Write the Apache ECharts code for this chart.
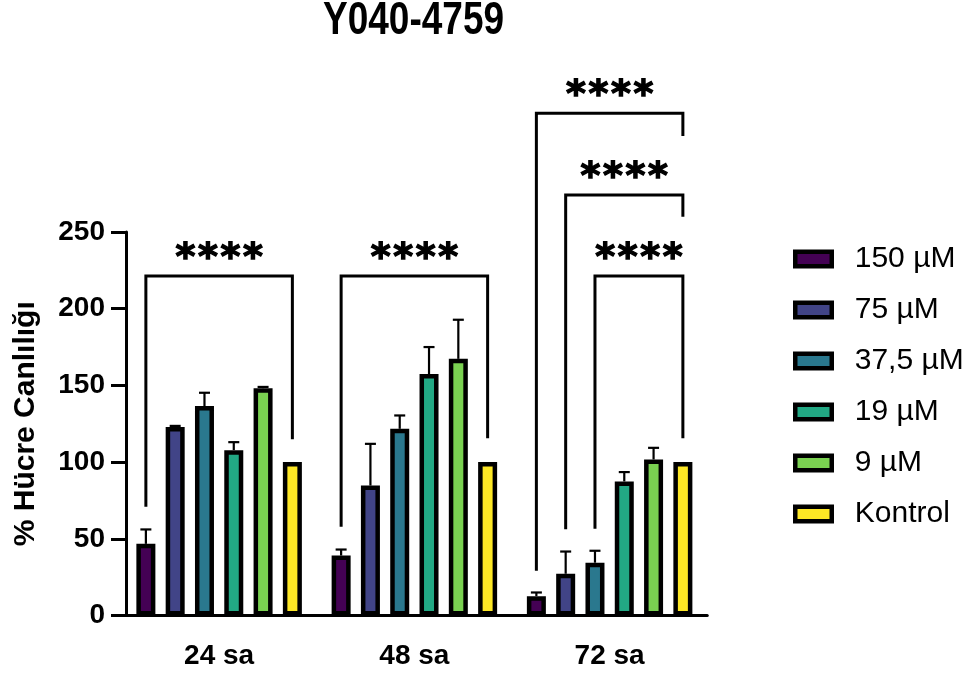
<!DOCTYPE html>
<html>
<head>
<meta charset="utf-8">
<script src="https://cdn.jsdelivr.net/npm/echarts@6/dist/echarts.min.js"></script>
<style>html,body{margin:0;padding:0;background:#fff}#c{width:977px;height:673px}</style>
</head>
<body>
<div id="c"></div>
<script>
// ---- data ----
var titleText = 'Y040-4759';
var categories = ['24 sa', '48 sa', '72 sa'];
var seriesNames = ['150 µM', '75 µM', '37,5 µM', '19 µM', '9 µM', 'Kontrol'];
var colors = ['#440154', '#414487', '#2a788e', '#22a884', '#7ad151', '#fde725'];
var means150 = [46.7, 39.1, 12.6];
var means75 = [122.8, 84.7, 27.2];
var means37 = [136.5, 121.7, 34.4];
var means19 = [107.8, 157.4, 87.4];
var means9 = [148.2, 167.3, 101.7];
var meansKontrol = [100, 100, 100];
var sd150 = [9.4, 3.9, 2.4];
var sd75 = [0.8, 27.2, 14.5];
var sd37 = [8.7, 8.7, 7.8];
var sd19 = [5.2, 17.6, 6.1];
var sd9 = [0.8, 25.5, 7.6];
var sdKontrol = [0, 0, 0];
// brackets: [category, left bar, right bar, top value, left leg bottom, right leg bottom, label]
var brackets = [
  [0, 0, 5, 221.3, 70.9, 114.9, '****'],
  [1, 0, 5, 221.3, 57.9, 115.5, '****'],
  [2, 0, 5, 327.4, 29.2, 312.6, '****'],
  [2, 1, 5, 274.1, 56.2, 260.0, '****'],
  [2, 2, 5, 221.3, 56.6, 115.5, '****']
];
var yTicks = {min: 0, max: 250, interval: 50};

// ---- build ----
var means = [means150, means75, means37, means19, means9, meansKontrol];
var sds = [sd150, sd75, sd37, sd19, sd9, sdKontrol];
var BAR_W = 19, BORDER = 4.5, STEP = 29.3;
var BAR_GAP = STEP / BAR_W - 1;
function barOffset(i) { return (i - (seriesNames.length - 1) / 2) * STEP; }

var errData = [];
means.forEach(function (m, s) {
  m.forEach(function (v, c) { errData.push([c, s, v, sds[s][c]]); });
});

var font = 'Liberation Sans, Arial, sans-serif';
var series = seriesNames.map(function (n, i) {
  return {
    name: n, type: 'bar', data: means[i], barWidth: BAR_W, barGap: (BAR_GAP * 100) + '%',
    itemStyle: {color: colors[i], borderColor: '#000', borderWidth: BORDER},
    z: 2
  };
});
series.push({
  type: 'custom', data: errData, z: 3, silent: true, clip: false,
  renderItem: function (params, api) {
    var c = api.value(0), s = api.value(1), v = api.value(2), sd = api.value(3);
    if (!sd) return null;
    var x = api.coord([c, 0])[0] + barOffset(s);
    var y0 = api.coord([c, v])[1];
    var y1 = api.coord([c, v + sd])[1];
    var st = {stroke: '#000', lineWidth: 2.2};
    return {type: 'group', children: [
      {type: 'line', shape: {x1: x, y1: y0, x2: x, y2: y1}, style: st},
      {type: 'line', shape: {x1: x - 5.5, y1: y1, x2: x + 5.5, y2: y1}, style: st}
    ]};
  }
});
series.push({
  type: 'custom', data: brackets, z: 4, silent: true, clip: false,
  renderItem: function (params, api) {
    var c = api.value(0), l = api.value(1), r = api.value(2);
    var cx = api.coord([c, 0])[0];
    var xl = cx + barOffset(l), xr = cx + barOffset(r);
    var yt = api.coord([c, api.value(3)])[1];
    var yl = api.coord([c, api.value(4)])[1];
    var yr = api.coord([c, api.value(5)])[1];
    var children = [{
      type: 'polyline', shape: {points: [[xl, yl], [xl, yt], [xr, yt], [xr, yr]]},
      style: {stroke: '#000', lineWidth: 3, fill: null}
    }];
    var mid = (xl + xr) / 2;
    var label = brackets[params.dataIndex][6];
    for (var k = 0; k < label.length; k++) {
      children.push({
        type: 'text', x: mid + (k - (label.length - 1) / 2) * 22.5, y: yt - 17,
        style: {text: label[k], fill: '#000', stroke: '#000', lineWidth: 1.4,
          font: 'bold 38px "DejaVu Sans"', align: 'center', verticalAlign: 'middle'}
      });
    }
    return {type: 'group', children: children};
  }
});

var chart = echarts.init(document.getElementById('c'), null, {renderer: 'canvas'});
chart.setOption({
  animation: false,
  backgroundColor: '#fff',
  color: colors,
  graphic: [{
    type: 'text', x: 323, y: 21, scaleY: 1.25,
    style: {text: titleText, font: 'bold 37px "Liberation Sans", Arial, sans-serif', fill: '#000',
      align: 'left', verticalAlign: 'middle'}
  }],
  legend: {
    orient: 'vertical', left: 788, top: 238, itemWidth: 36.5, itemHeight: 14.5, itemGap: 19,
    icon: 'rect', data: seriesNames,
    itemStyle: {borderColor: '#000', borderWidth: BORDER},
    textStyle: {fontFamily: font, fontSize: 30, color: '#000', lineHeight: 32, padding: [0, 0, 0, 18]}
  },
  grid: {left: 121.5, right: 269.75, top: 232, bottom: 57.5, containLabel: false},
  xAxis: {
    type: 'category', data: categories,
    axisLine: {lineStyle: {color: '#000', width: 3}},
    axisTick: {alignWithLabel: true, length: 18, lineStyle: {color: '#000', width: 3}},
    axisLabel: {fontFamily: font, fontWeight: 'bold', fontSize: 28, color: '#000', margin: 27}
  },
  yAxis: {
    type: 'value', min: yTicks.min, max: yTicks.max, interval: yTicks.interval, offset: -4.5,
    name: '% Hücre Canlılığı', nameLocation: 'middle', nameRotate: 90, nameGap: 85,
    nameTextStyle: {fontFamily: font, fontWeight: 'bold', fontSize: 30, color: '#000'},
    splitLine: {show: false},
    axisLine: {show: true, lineStyle: {color: '#000', width: 3}},
    axisTick: {show: true, length: 15, lineStyle: {color: '#000', width: 3}},
    axisLabel: {fontFamily: font, fontWeight: 'bold', fontSize: 28, color: '#000', margin: 21}
  },
  series: series
});
</script>
</body>
</html>
